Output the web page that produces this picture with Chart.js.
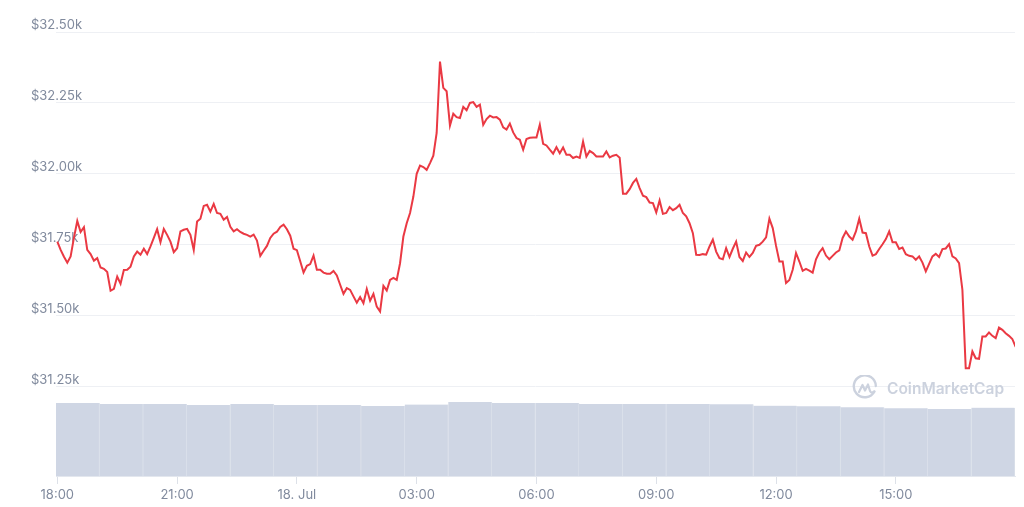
<!DOCTYPE html>
<html>
<head>
<meta charset="utf-8">
<script src="https://cdn.jsdelivr.net/npm/chart.js@4.4.1/dist/chart.umd.min.js"></script>
<style>
  html, body { margin: 0; padding: 0; background: #ffffff; }
  #wrap { position: relative; width: 1024px; height: 507px; }
  #marca { position: absolute; left: 852px; top: 375px; display: flex; align-items: center; gap: 9px;
           color: #ccd2de; font-family: Inter, "Noto Sans", sans-serif; font-size: 15.5px; font-weight: 600; }
</style>
</head>
<body>
<div id="wrap">
  <canvas id="grafico" width="1024" height="507"></canvas>
  <div id="marca">
    <svg width="26" height="26" viewBox="0 0 26 26">
      <path d="M22.5 16.5 A11 11 0 1 1 23.8 11" fill="none" stroke="#ccd2de" stroke-width="2.4" stroke-linecap="round"/>
      <path d="M7 17 L10.5 10 L13 15.5 L16 9.5 L18 16 Q19.5 19 22 16.5" fill="none" stroke="#ccd2de" stroke-width="2.2" stroke-linejoin="round" stroke-linecap="round"/>
    </svg>
    <span>CoinMarketCap</span>
  </div>
</div>
<script>
// preço a cada 5 minutos, a partir das 18:00
const passoMinutos = 5;
const precos = [
  31761, 31732, 31708, 31687, 31709, 31775, 31834, 31795, 31812, 31732, 31717, 31694,
  31703, 31670, 31665, 31654, 31588, 31595, 31638, 31613, 31661, 31662, 31673, 31709,
  31726, 31715, 31736, 31717, 31744, 31774, 31805, 31759, 31806, 31785, 31761, 31724,
  31738, 31797, 31803, 31806, 31785, 31732, 31832, 31842, 31887, 31891, 31867, 31894,
  31862, 31859, 31838, 31848, 31813, 31797, 31805, 31795, 31789, 31785, 31779, 31786,
  31765, 31711, 31729, 31746, 31774, 31789, 31796, 31813, 31821, 31805, 31782, 31736,
  31731, 31692, 31652, 31676, 31682, 31712, 31662, 31662, 31652, 31648, 31648, 31658,
  31642, 31609, 31577, 31597, 31591, 31568, 31546, 31566, 31544, 31594, 31553, 31577,
  31532, 31515, 31605, 31589, 31626, 31633, 31626, 31685, 31779, 31826, 31862, 31920,
  32000, 32029, 32024, 32014, 32038, 32064, 32144, 32396, 32303, 32291, 32170, 32212,
  32200, 32197, 32236, 32224, 32250, 32253, 32236, 32244, 32173, 32193, 32205, 32199,
  32200, 32191, 32164, 32156, 32177, 32146, 32126, 32120, 32085, 32123, 32127, 32128,
  32128, 32173, 32106, 32100, 32085, 32071, 32094, 32073, 32093, 32067, 32067, 32056,
  32061, 32056, 32114, 32061, 32081, 32073, 32061, 32061, 32061, 32079, 32058, 32064,
  32067, 32057, 31930, 31930, 31946, 31968, 31982, 31950, 31923, 31918, 31899, 31897,
  31864, 31906, 31859, 31862, 31883, 31872, 31879, 31891, 31862, 31850, 31826, 31791,
  31715, 31714, 31717, 31715, 31744, 31768, 31726, 31703, 31699, 31738, 31707, 31736,
  31761, 31707, 31693, 31723, 31707, 31721, 31746, 31750, 31761, 31776, 31842, 31809,
  31746, 31691, 31691, 31615, 31626, 31662, 31721, 31691, 31658, 31665, 31659, 31652,
  31699, 31723, 31738, 31712, 31699, 31711, 31723, 31730, 31774, 31797, 31779, 31768,
  31797, 31842, 31793, 31791, 31744, 31712, 31717, 31735, 31752, 31770, 31797, 31759,
  31759, 31735, 31740, 31717, 31711, 31709, 31697, 31709, 31687, 31656, 31683, 31709,
  31718, 31707, 31735, 31737, 31752, 31709, 31702, 31685, 31591, 31315, 31315, 31374,
  31350, 31348, 31427, 31427, 31441, 31429, 31421, 31458, 31450, 31438, 31429, 31418,
  31390
];

// volume 24h (bilhões de US$), blocos ao longo do dia
const volumes = [
  21.9, 21.6, 21.6, 21.3, 21.6, 21.3, 21.3, 21.0, 21.45, 22.2, 21.9,
  21.9, 21.6, 21.6, 21.6, 21.5, 21.1, 20.9, 20.6, 20.3, 20.1, 20.5
];

const marcasY = [31250, 31500, 31750, 32000, 32250, 32500];
const marcasX = [0, 3, 6, 9, 12, 15, 18, 21]; // horas depois das 18:00
const rotulosX = ['18:00', '21:00', '18. Jul', '03:00', '06:00', '09:00', '12:00', '15:00'];

const corTexto = '#808a9d';
const fonteEixo = { family: 'Inter', size: 13 };

const pontos = precos.map((p, i) => ({ x: i * passoMinutos / 60, y: p }));

new Chart(document.getElementById('grafico').getContext('2d'), {
  data: {
    datasets: [
      {
        type: 'line',
        data: pontos,
        xAxisID: 'x', yAxisID: 'y',
        borderColor: '#ea3943',
        borderWidth: 2,
        pointRadius: 0,
        tension: 0,
        order: 1
      },
      {
        type: 'bar',
        data: volumes,
        xAxisID: 'xv', yAxisID: 'yv',
        backgroundColor: '#cfd6e4',
        borderColor: '#dde2eb',
        borderWidth: { left: 0, right: 1, top: 0, bottom: 0 },
        borderSkipped: false,
        grouped: false,
        barPercentage: 1, categoryPercentage: 1,
        order: 2
      }
    ]
  },
  options: {
    responsive: false,
    animation: false,
    devicePixelRatio: 1,
    layout: { padding: { left: 56, right: 9, top: 32, bottom: 0 } },
    plugins: { legend: { display: false }, tooltip: { enabled: false } },
    scales: {
      x: {
        type: 'linear', position: 'bottom',
        min: -0.033, max: 23.984,
        afterBuildTicks: s => { s.ticks = marcasX.map(v => ({ value: v })); },
        afterFit: s => { s.height = 31; },
        ticks: {
          callback: (v, i) => rotulosX[i],
          color: corTexto, font: fonteEixo, padding: 3,
          maxRotation: 0, autoSkip: false
        },
        grid: { drawOnChartArea: false, drawTicks: true, tickLength: 8, color: '#dde1e8' },
        border: { display: true, color: '#e3e7ee' }
      },
      xv: {
        type: 'category', labels: volumes.map((_, i) => String(i)),
        display: false, offset: true
      },
      y: {
        type: 'linear', position: 'left',
        min: 30935, max: 32500,
        afterBuildTicks: s => { s.ticks = marcasY.map(v => ({ value: v })); },
        afterFit: s => { s.width = 0; },
        ticks: {
          mirror: true, padding: -25, labelOffset: -7,
          color: corTexto, font: fonteEixo,
          callback: v => '$' + (v / 1000).toFixed(2) + 'k'
        },
        grid: { color: '#eef0f4', drawTicks: false },
        border: { display: false }
      },
      yv: { type: 'linear', display: false, min: 0, max: 133.2 }
    }
  }
});
</script>
</body>
</html>
